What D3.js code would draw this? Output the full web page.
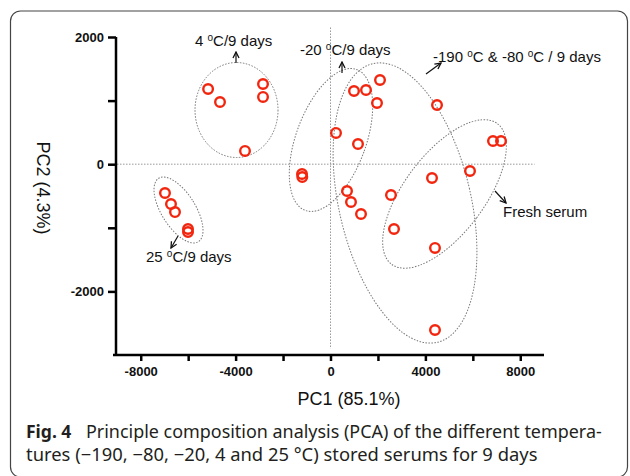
<!DOCTYPE html>
<html>
<head>
  <meta charset="utf-8">
  <title>PCA of stored serums</title>
  <script src="https://cdn.jsdelivr.net/npm/d3@7"></script>
  <style>
    body { margin: 0; background: #fff; }
    svg text { font-family: 'Liberation Sans', Arial, sans-serif; fill: #111; }
    .tick text { font-weight: bold; font-size: 13px; }
    .caption { font-family: 'Noto Sans', 'Open Sans', sans-serif; fill: #231f20; }
  </style>
</head>
<body>
<svg id="chart" width="630" height="476"></svg>

<script>
// PCA scores (PC1, PC2)
var pc1 = [-5160, -4658, -2845, -2845, -3604,
  -6977, -6724, -6555, -6007, -6007,
  -1201, -1190, 232, 1159, 991, 1497, 696, 864, 1286,
  2087, 1960, 4490, 4405,
  6850, 7188, 5881, 4279, 2550, 2677, 4405];
var pc2 = [1182, 978, 1261, 1057, 208,
  -453, -626, -752, -1019, -1066,
  -154, -201, 491, 318, 1151, 1167, -421, -594, -783,
  1324, 962, 931, -2607,
  365, 365, -107, -217, -484, -1019, -1317];

// group ellipses: centre in data units
var groupNames = ['4 °C', '-20 °C', '-190 °C & -80 °C', 'Fresh serum', '25 °C'];
var groupPC1 = [-3962, 21, 3141, 4806, -6407];
var groupPC2 = [852, 381, -610, -468, -720];

var xTicks = [-8000, -6000, -4000, -2000, 0, 2000, 4000, 6000, 8000];
var xLabels = [-8000, -4000, 0, 4000, 8000];
var yTicks = [2000, 1000, 0, -1000, -2000];
var yLabels = [2000, 0, -2000];

var svg = d3.select('#chart');

// outer frame
svg.append('rect')
  .attr('x', 10.5).attr('y', 11)
  .attr('width', 617).attr('height', 466)
  .attr('rx', 10)
  .attr('fill', 'none')
  .attr('stroke', '#444')
  .attr('stroke-width', 1.2);

var x = d3.scaleLinear().domain([-9000, 9000]).range([117, 544]);
var y = d3.scaleLinear().domain([-3000, 2000]).range([355, 37]);

svg.append('defs').append('marker')
  .attr('id', 'arr')
  .attr('viewBox', '0 0 8 8')
  .attr('refX', 7).attr('refY', 4)
  .attr('markerWidth', 8).attr('markerHeight', 8)
  .attr('markerUnits', 'userSpaceOnUse')
  .attr('orient', 'auto')
  .append('path')
  .attr('d', 'M1,1 L7,4 L1,7')
  .attr('fill', 'none')
  .attr('stroke', '#111')
  .attr('stroke-width', 1.3);

// dotted zero lines
svg.append('line')
  .attr('x1', x(-9000)).attr('x2', x(8600))
  .attr('y1', y(0)).attr('y2', y(0))
  .attr('stroke', '#999').attr('stroke-dasharray', '1.5,1.5');
svg.append('line')
  .attr('x1', x(0)).attr('x2', x(0))
  .attr('y1', y(2150)).attr('y2', y(-2900))
  .attr('stroke', '#999').attr('stroke-dasharray', '1.5,1.5');

// group ellipses (radii / tilt in px)
var ellSize = [[41.5, 47.5, 0], [35, 75, 20], [66, 143, -13], [40, 88, 37], [17, 37.4, -32]];
svg.append('g').selectAll('ellipse')
  .data(groupNames)
  .join('ellipse')
  .attr('transform', (d, i) => 'translate(' + x(groupPC1[i]) + ',' + y(groupPC2[i]) + ') rotate(' + ellSize[i][2] + ')')
  .attr('rx', (d, i) => ellSize[i][0])
  .attr('ry', (d, i) => ellSize[i][1])
  .attr('fill', 'none')
  .attr('stroke', '#777')
  .attr('stroke-width', 1)
  .attr('stroke-dasharray', '1.5,1.5');

// axes
var yAxis = svg.append('g')
  .attr('transform', 'translate(' + 116 + ',0)')
  .call(d3.axisLeft(y).tickValues(yTicks).tickSize(8).tickSizeOuter(0).tickPadding(4)
    .tickFormat(d => yLabels.includes(d) ? d : ''));
yAxis.select('.domain').attr('d', 'M0,' + y(2000) + 'V' + (y(-3000) + 1));

var xAxis = svg.append('g')
  .attr('transform', 'translate(0,' + 355 + ')')
  .call(d3.axisBottom(x).tickValues(xTicks).tickSize(6).tickSizeOuter(0).tickPadding(6)
    .tickFormat(d => xLabels.includes(d) ? d : ''));
xAxis.select('.domain').attr('d', 'M' + 113 + ',0H' + x(9000));

svg.selectAll('.domain, .tick line').attr('stroke', '#000').attr('stroke-width', 2.5);

// points
svg.append('g').selectAll('circle')
  .data(pc1)
  .join('circle')
  .attr('cx', d => x(d))
  .attr('cy', (d, i) => y(pc2[i]))
  .attr('r', 4.8)
  .attr('fill', 'none')
  .attr('stroke', '#f2260e')
  .attr('stroke-width', 2.4);

// axis titles
svg.append('text')
  .attr('x', 349).attr('y', 405)
  .attr('text-anchor', 'middle')
  .style('font-size', '18px')
  .text('PC1 (85.1%)');
svg.append('text')
  .attr('transform', 'translate(37,188) rotate(90)')
  .attr('text-anchor', 'middle')
  .style('font-size', '18px')
  .text('PC2 (4.3%)');

// group annotations: [label before degree, after, x, baseline, arrow x1,y1,x2,y2]
var notes = [
  ['4 ', 'C/9 days', 195, 46, 236, 63, 236, 52],
  ['-20 ', 'C/9 days', 300, 55, 342, 73, 342, 62],
  ['-190 ', 'C & -80 ', 433, 62, 426, 74, 441, 63],
  ['', 'Fresh serum', 503, 217, 495, 191, 506, 203],
  ['25 ', 'C/9 days', 146, 262, 178, 236, 171, 248]
];
notes.forEach(n => {
  var t = svg.append('text').attr('x', n[2]).attr('y', n[3]).style('font-size', '15px');
  if (n[0]) {
    t.append('tspan').text(n[0]);
    t.append('tspan').attr('dy', -5).style('font-size', '10px').text('o');
    t.append('tspan').attr('dy', 5).text(n[1]);
    if (n[0] === '-190 ') {
      t.append('tspan').attr('dy', -5).style('font-size', '10px').text('o');
      t.append('tspan').attr('dy', 5).text('C / 9 days');
    }
  } else {
    t.text(n[1]);
  }
  svg.append('line')
    .attr('x1', n[4]).attr('y1', n[5]).attr('x2', n[6]).attr('y2', n[7])
    .attr('stroke', '#111').attr('stroke-width', 1.2)
    .attr('marker-end', 'url(#arr)');
});

// caption: shrink font so each piece fits its width in the reference
function fitText(sel, width) {
  var w = sel.node().getComputedTextLength();
  if (w > width) {
    sel.style('font-size', (parseFloat(sel.style('font-size')) * width / w) + 'px');
  }
}
var cap1 = svg.append('text').attr('class', 'caption')
  .attr('x', 26).attr('y', 438)
  .style('font-size', '17.5px').style('font-weight', 'bold')
  .text('Fig. 4');
fitText(cap1, 51);
var cap2 = svg.append('text').attr('class', 'caption')
  .attr('x', 86).attr('y', 438)
  .style('font-size', '19px')
  .text('Principle composition analysis (PCA) of the different tempera-');
fitText(cap2, 516);
var cap3 = svg.append('text').attr('class', 'caption')
  .attr('x', 26).attr('y', 461)
  .style('font-size', '19px')
  .text('tures (\u2212190, \u221280, \u221220, 4 and 25 °C) stored serums for 9 days');
fitText(cap3, 512);
</script>
</body>
</html>
